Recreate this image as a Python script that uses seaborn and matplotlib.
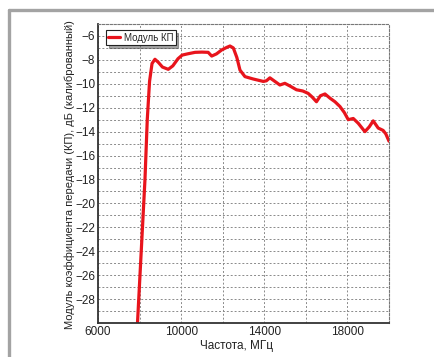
import matplotlib
matplotlib.use("Agg")
import matplotlib.pyplot as plt
import matplotlib.ticker as mticker
from matplotlib.lines import Line2D
import seaborn as sns
import pandas as pd

# frequency, MHz and calibrated transfer modulus, dB
freq = [7900, 8050, 8260, 8370, 8480, 8600, 8740, 8900, 9100, 9380, 9600, 9850,
        10050, 10300, 10670, 11000, 11300, 11470, 11700, 11950, 12200, 12350, 12510,
        12680, 12830, 13070, 13470, 13950, 14100, 14270, 14510, 14750, 14990, 15250,
        15550, 15850, 16110, 16300, 16510, 16700, 16920, 17160, 17400, 17640, 17850,
        18040, 18280, 18520, 18840, 19050, 19240, 19480, 19720, 19850, 20000]
gain = [-30, -25, -18, -13, -9.8, -8.3, -7.95, -8.2, -8.6, -8.79, -8.5, -7.9,
        -7.6, -7.5, -7.37, -7.35, -7.37, -7.68, -7.5, -7.17, -6.95, -6.84, -7.0,
        -7.8, -8.85, -9.4, -9.6, -9.8, -9.75, -9.5, -9.8, -10.1, -9.96, -10.2,
        -10.5, -10.6, -10.8, -11.1, -11.5, -11.0, -10.85, -11.2, -11.5, -11.9, -12.4,
        -13.0, -12.9, -13.3, -14.0, -13.6, -13.1, -13.7, -13.9, -14.2, -14.8]
x_labels = [6000, 10000, 14000, 18000]
y_labels = [-6, -8, -10, -12, -14, -16, -18, -20, -22, -24, -26, -28]

sns.set_style("white")
plt.rcParams['font.family'] = ['Liberation Sans', 'DejaVu Sans']
plt.rcParams['axes.unicode_minus'] = True

df = pd.DataFrame({"freq": freq, "gain": gain})

fig = plt.figure(figsize=(4.35, 3.57), dpi=100)
ax = fig.add_axes([98 / 435, 34 / 357, 291 / 435, 299 / 357])

sns.lineplot(data=df, x="freq", y="gain", sort=False, color="#e8141c",
             linewidth=2.3, ax=ax, label="Модуль КП")

ax.set_xlim(6000, 20000)
ax.set_ylim(-30, -5)

ax.xaxis.set_major_locator(mticker.MultipleLocator(2000))
ax.xaxis.set_minor_locator(mticker.MultipleLocator(500))
ax.yaxis.set_major_locator(mticker.MultipleLocator(1))
ax.yaxis.set_minor_locator(mticker.MultipleLocator(0.5))
ax.xaxis.set_major_formatter(mticker.FuncFormatter(
    lambda v, p: f"{int(round(v))}" if int(round(v)) in x_labels else ""))
ax.yaxis.set_major_formatter(mticker.FuncFormatter(
    lambda v, p: f"\u2212{abs(int(round(v)))}" if int(round(v)) in y_labels else ""))

ax.tick_params(which="both", direction="in", colors="#333333", labelcolor="#222222",
               labelsize=8.5, pad=2)
ax.tick_params(which="major", length=4, width=0.8)
ax.tick_params(which="minor", length=2, width=0.6)

ax.grid(True, which="major", color="#8a8a8a", linestyle=(0, (2, 2)), linewidth=0.7)

for side in ["left", "bottom"]:
    ax.spines[side].set_color("#333333")
    ax.spines[side].set_linewidth(1.3)
for side in ["top", "right"]:
    ax.spines[side].set_color("#777777")
    ax.spines[side].set_linestyle((0, (2, 1.5)))
    ax.spines[side].set_linewidth(0.8)

ax.set_xlabel("Частота, МГц", fontsize=8.5, color="#222222")
ax.set_ylabel("Модуль коэффициента передачи (КП), дБ (калиброванный)",
              fontsize=8.0, color="#222222")
ax.xaxis.set_label_coords(0.476, -0.058)
ax.yaxis.set_label_coords(-0.08, 0.495)

leg = ax.legend(loc="upper left", bbox_to_anchor=(0.02, 0.985), fontsize=7,
                frameon=True, fancybox=False, shadow=True, handlelength=1.2,
                handletextpad=0.4, borderpad=0.25, borderaxespad=0.2)
leg.get_frame().set_edgecolor("#222222")
leg.get_frame().set_linewidth(0.8)

# grey frame of the figure (top and left edges)
fig.add_artist(Line2D([9 / 435, 1.0], [347 / 357, 347 / 357], color="#a3a3a3",
                      linewidth=2.4, transform=fig.transFigure))
fig.add_artist(Line2D([9 / 435, 9 / 435], [0.0, 347 / 357], color="#a3a3a3",
                      linewidth=2.4, transform=fig.transFigure))

fig.savefig("out.png", dpi=100)
